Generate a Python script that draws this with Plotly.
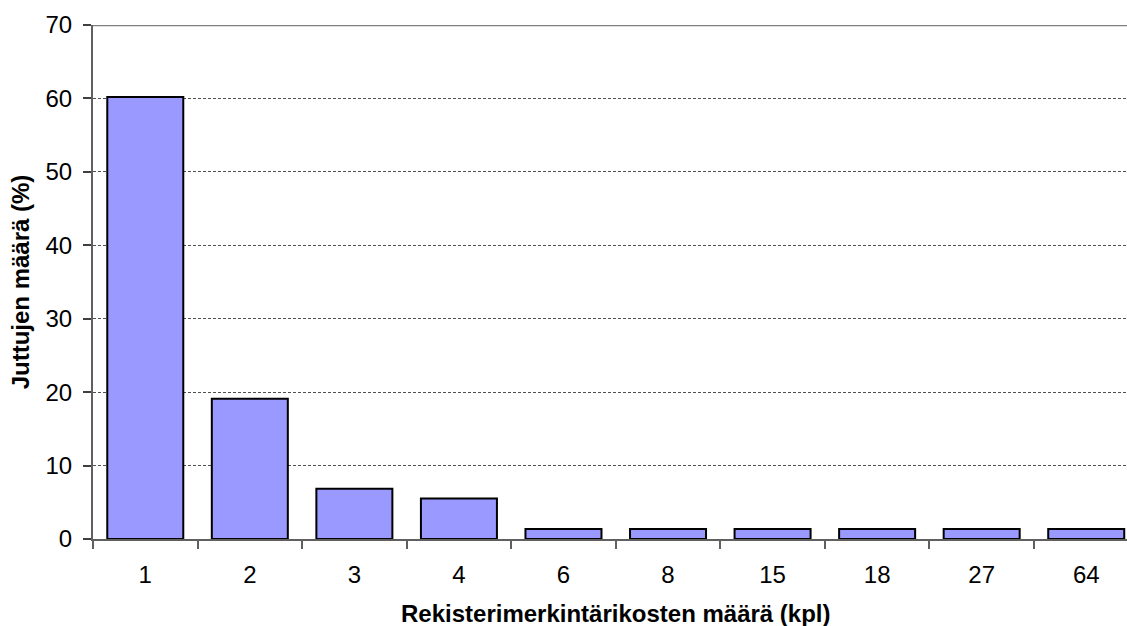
import plotly.graph_objects as go

categories = ["1", "2", "3", "4", "6", "8", "15", "18", "27", "64"]
values = [60.2, 19.1, 6.85, 5.5, 1.35, 1.35, 1.35, 1.35, 1.35, 1.35]
y_ticks = [0, 10, 20, 30, 40, 50, 60, 70]

FONT = "Liberation Sans, Arial, sans-serif"
TICK_SIZE = 24
TITLE_SIZE = 24

fig = go.Figure()
fig.add_trace(go.Bar(
    x=categories,
    y=values,
    width=0.727,
    marker=dict(color="#9999FF", line=dict(color="#000000", width=2)),
    hoverinfo="x+y",
))

fig.update_layout(
    width=1127,
    height=626,
    margin=dict(l=93, r=0, t=25, b=87),
    paper_bgcolor="white",
    plot_bgcolor="white",
    showlegend=False,
    font=dict(family=FONT, size=TICK_SIZE, color="black"),
    xaxis=dict(
        type="category",
        range=[-0.5, 9.39],
        tickson="boundaries",
        ticks="outside",
        ticklen=8,
        tickwidth=1.5,
        tickcolor="#606060",
        ticklabelstandoff=13,
        showline=True,
        linecolor="#606060",
        linewidth=1.5,
        showgrid=False,
        tickfont=dict(family=FONT, size=TICK_SIZE, color="black"),
        fixedrange=True,
    ),
    yaxis=dict(
        range=[0, 70],
        tickvals=y_ticks,
        ticks="outside",
        ticklen=8,
        tickwidth=1.5,
        tickcolor="#404040",
        ticklabelstandoff=6,
        showline=True,
        linecolor="#606060",
        linewidth=2,
        showgrid=True,
        gridcolor="#505050",
        gridwidth=1,
        griddash="3px,2px",
        zeroline=False,
        tickfont=dict(family=FONT, size=TICK_SIZE, color="black"),
        title=dict(text="<b>Juttujen määrä (%)</b>",
                   font=dict(family=FONT, size=TITLE_SIZE, color="black"), standoff=9),
        fixedrange=True,
    ),
    shapes=[
        dict(type="line", xref="paper", yref="y", x0=0, x1=1, y0=70, y1=70,
             line=dict(color="#808080", width=2.5)),
    ],
    annotations=[
        dict(text="<b>Rekisterimerkintärikosten määrä (kpl)</b>", xref="x", yref="paper",
             x=4.5, y=-0.1155, xanchor="center", yanchor="top", showarrow=False,
             font=dict(family=FONT, size=TITLE_SIZE, color="black")),
    ],
)

fig.write_html(
    "out.html",
    config={"displayModeBar": False},
    post_script="document.body.style.margin='0';document.body.style.overflow='hidden';",
)
